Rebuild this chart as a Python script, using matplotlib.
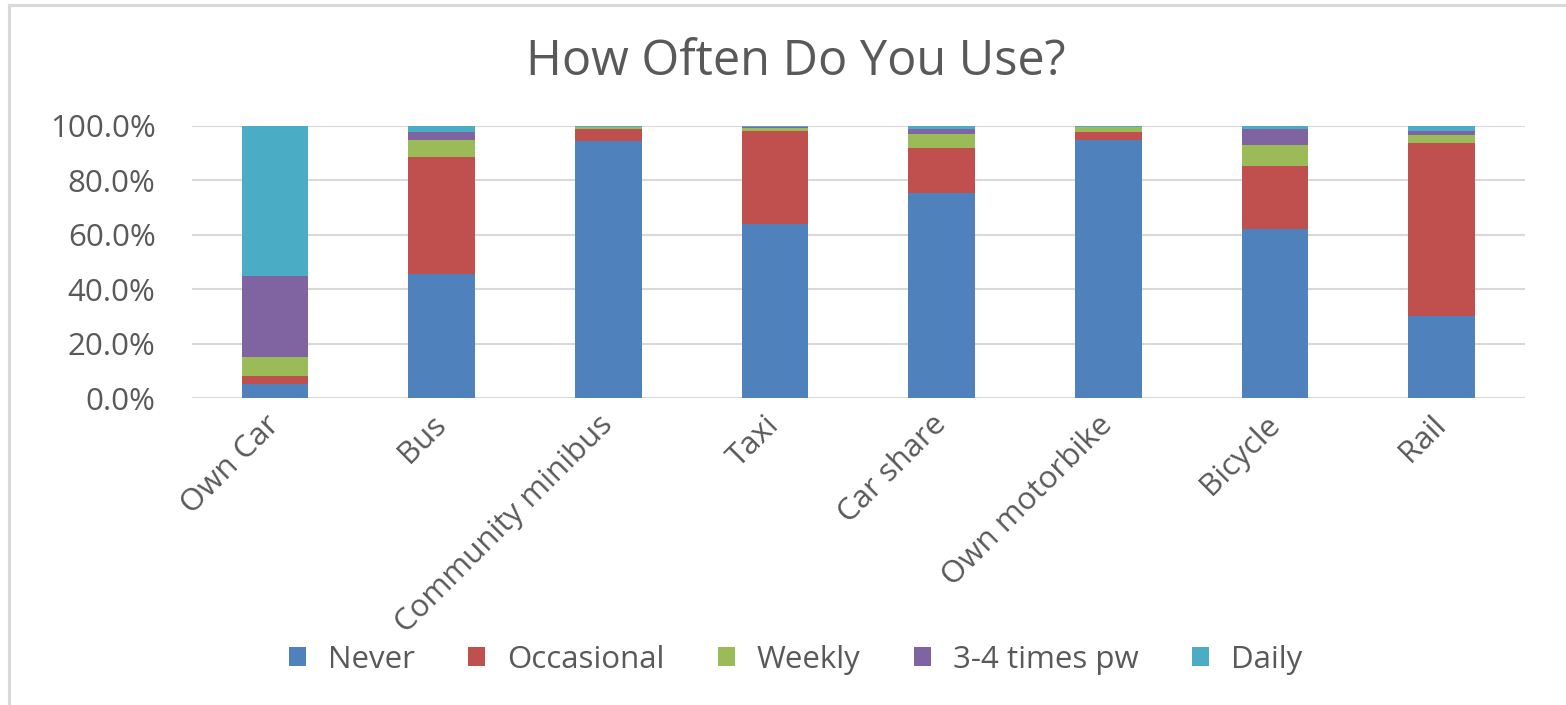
import matplotlib.pyplot as plt
import numpy as np
from matplotlib.patches import Patch
from matplotlib.ticker import FuncFormatter

plt.rcParams['font.family'] = ['Open Sans', 'DejaVu Sans']

# categories and shares (%)
modes = ['Own Car', 'Bus', 'Community minibus', 'Taxi', 'Car share',
         'Own motorbike', 'Bicycle', 'Rail']
never = [5.3, 45.6, 94.3, 63.8, 75.4, 94.7, 62.2, 30.1]
occasional = [3.0, 42.9, 4.6, 34.4, 16.5, 2.9, 22.9, 63.5]
weekly = [6.9, 6.4, 0.5, 1.0, 5.2, 1.8, 7.9, 2.9]
three_four = [29.8, 2.8, 0.3, 0.5, 1.7, 0.3, 5.9, 1.5]
daily = [55.0, 2.3, 0.3, 0.3, 1.2, 0.3, 1.1, 2.0]

series_names = ['Never', 'Occasional', 'Weekly', '3-4 times pw', 'Daily']
series = [never, occasional, weekly, three_four, daily]
colors = ['#4F81BD', '#C0504D', '#9BBB59', '#8064A2', '#4BACC6']
text_col = '#595959'
grid_col = '#D9D9D9'

fig = plt.figure(figsize=(15.66, 7.05), dpi=100)
ax = fig.add_axes([0.1224, 0.435, 0.8514, 0.3867])

x = np.arange(len(modes))
bottom = np.zeros(len(modes))
for name, vals, c in zip(series_names, series, colors):
    v = np.array(vals) / 100.0
    ax.bar(x, v, width=0.4, bottom=bottom, color=c, label=name, zorder=3)
    bottom += v

ax.set_xlim(-0.5, len(modes) - 0.5)
ax.set_ylim(0, 1.0)
ax.set_yticks(np.arange(0, 1.01, 0.2))
ax.yaxis.set_major_formatter(FuncFormatter(lambda v, p: f'{v * 100:.1f}%'))
ax.grid(axis='y', color=grid_col, linewidth=1.5, zorder=0)
for s in ax.spines.values():
    s.set_visible(False)
ax.tick_params(axis='y', length=0, pad=26, labelsize=22.5, labelcolor=text_col)
ax.tick_params(axis='x', length=0, pad=8, labelsize=22.5, labelcolor=text_col)
ax.set_xticks(x)
ax.set_xticklabels(modes, rotation=45, ha='right', va='center', rotation_mode='anchor')
for lab in ax.get_xticklabels():
    lab.set_y(-0.04)

fig.text(0.508, 0.912, 'How Often Do You Use?', ha='center', va='center',
         fontsize=35, color=text_col)

handles = [Patch(facecolor=c, edgecolor='none') for c in colors]
fig.legend(handles, series_names, loc='center', bbox_to_anchor=(0.508, 0.064),
           ncol=5, frameon=False, fontsize=22.5, labelcolor=text_col,
           handlelength=0.55, handleheight=0.55, handletextpad=0.7, columnspacing=1.7)

# light border on top and left like the screenshot
fig.add_artist(plt.Line2D([0.0057, 1], [0.9929, 0.9929], color=grid_col, linewidth=2.2))
fig.add_artist(plt.Line2D([0.0057, 0.0057], [0, 0.9929], color=grid_col, linewidth=2.2))

fig.savefig('out.png', dpi=100)
